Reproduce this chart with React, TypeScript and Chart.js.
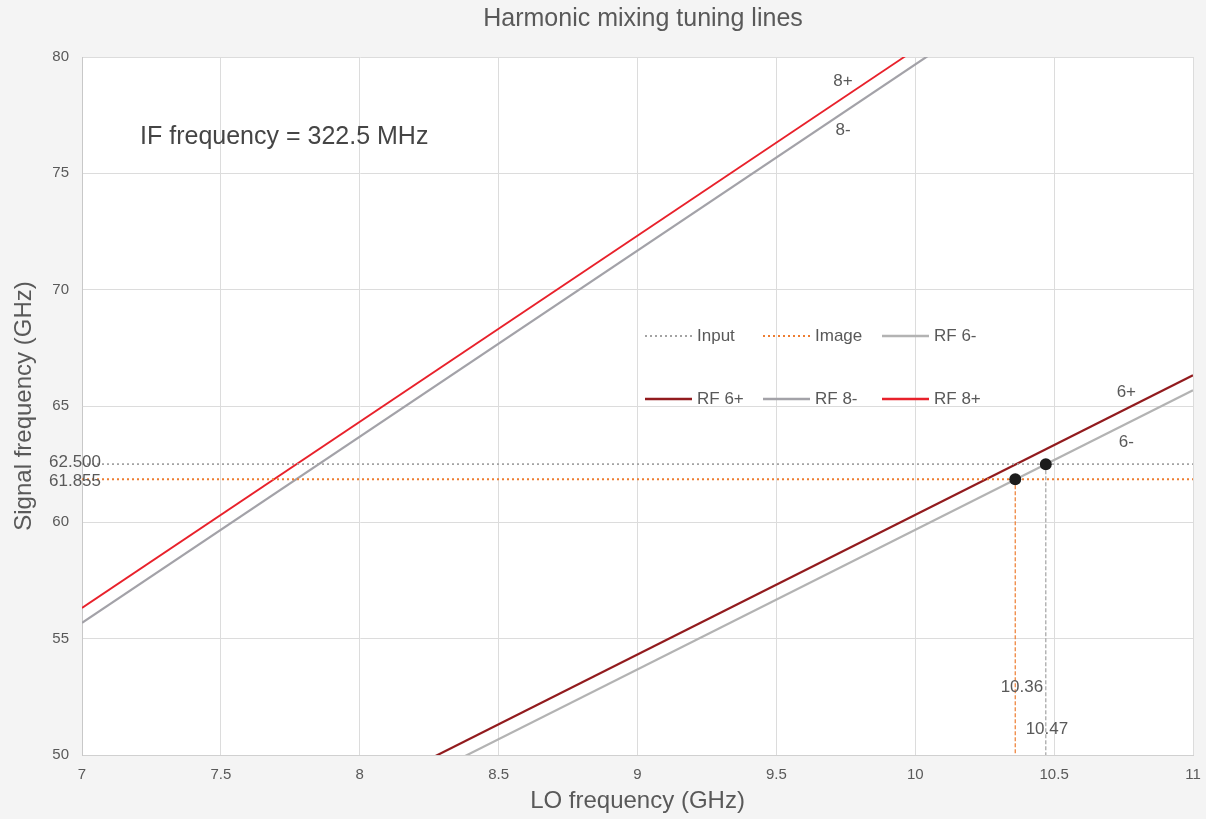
import React, { useEffect, useRef } from "react";
import { Chart, registerables } from "chart.js";
Chart.register(...registerables);

const TITLE = "Harmonic mixing tuning lines";
const X_TITLE = "LO frequency (GHz)";
const Y_TITLE = "Signal frequency (GHz)";
const IF_NOTE = "IF frequency = 322.5 MHz";

const X_MIN = 7;
const X_MAX = 11;
const Y_MIN = 50;
const Y_MAX = 80;

const LO_ENDS = [7, 11];
const RF6_MINUS = [41.68, 65.68];
const RF6_PLUS = [42.32, 66.32];
const RF8_MINUS = [55.68, 87.68];
const RF8_PLUS = [56.32, 88.32];

const INPUT_FREQ = 62.5;
const IMAGE_FREQ = 61.855;
const INPUT_LO = 10.47;
const IMAGE_LO = 10.36;

const LINE_LABELS = [
  { text: "8+", x: 9.74, y: 78.97 },
  { text: "8-", x: 9.74, y: 76.86 },
  { text: "6+", x: 10.76, y: 65.6 },
  { text: "6-", x: 10.76, y: 63.45 },
  { text: "10.36", x: 10.384, y: 52.92 },
  { text: "10.47", x: 10.474, y: 51.12 },
];

const C_GRAY_DOT = "#a3a3a3";
const C_ORANGE = "#ee7d31";
const C_RF6M = "#b3b3b3";
const C_RF6P = "#921b1e";
const C_RF8M = "#a3a2a8";
const C_RF8P = "#e8212b";
const TEXT = "#595959";
const FONT = "'Liberation Sans', Arial, sans-serif";

const LEGEND = [
  { label: "Input", color: C_GRAY_DOT, dash: [2, 3], width: 2 },
  { label: "Image", color: C_ORANGE, dash: [2, 3], width: 2 },
  { label: "RF 6-", color: C_RF6M, dash: [], width: 2.5 },
  { label: "RF 6+", color: C_RF6P, dash: [], width: 2.5 },
  { label: "RF 8-", color: C_RF8M, dash: [], width: 2.5 },
  { label: "RF 8+", color: C_RF8P, dash: [], width: 2.5 },
];

function pts(xs: number[], ys: number[]) {
  return xs.map((x, i) => ({ x, y: ys[i] }));
}

const bgPlugin = {
  id: "bgPlugin",
  beforeDraw(chart: any) {
    const { ctx, chartArea } = chart;
    ctx.save();
    ctx.fillStyle = "#f4f4f4";
    ctx.fillRect(0, 0, chart.width, chart.height);
    ctx.fillStyle = "#ffffff";
    ctx.fillRect(chartArea.left, chartArea.top, chartArea.right - chartArea.left, chartArea.bottom - chartArea.top);
    ctx.restore();
  },
};

const textPlugin = {
  id: "textPlugin",
  afterDraw(chart: any) {
    const { ctx, chartArea, scales } = chart;
    const xs = scales.x;
    const ys = scales.y;
    ctx.save();
    ctx.fillStyle = TEXT;
    ctx.font = `25px ${FONT}`;
    ctx.textAlign = "center";
    ctx.textBaseline = "middle";
    ctx.fillText(TITLE, 643, 19);

    ctx.fillStyle = "#454545";
    ctx.font = `25px ${FONT}`;
    ctx.textAlign = "left";
    ctx.fillText(IF_NOTE, xs.getPixelForValue(7.209), ys.getPixelForValue(76.56));

    ctx.fillStyle = TEXT;
    ctx.font = `17px ${FONT}`;
    ctx.textAlign = "center";
    LINE_LABELS.forEach((l) => {
      ctx.fillText(l.text, xs.getPixelForValue(l.x), ys.getPixelForValue(l.y));
    });

    ctx.font = `17px ${FONT}`;
    ctx.textAlign = "right";
    ctx.fillText(INPUT_FREQ.toFixed(3), chartArea.left + 19, ys.getPixelForValue(INPUT_FREQ) - 2);
    ctx.fillText(IMAGE_FREQ.toFixed(3), chartArea.left + 19, ys.getPixelForValue(IMAGE_FREQ) + 2);

    const colX = [645, 763, 882];
    const rowY = [336, 399];
    ctx.font = `17px ${FONT}`;
    ctx.textAlign = "left";
    LEGEND.forEach((item, i) => {
      const cx = colX[i % 3];
      const cy = rowY[Math.floor(i / 3)];
      ctx.beginPath();
      ctx.setLineDash(item.dash);
      ctx.strokeStyle = item.color;
      ctx.lineWidth = item.width;
      ctx.moveTo(cx, cy);
      ctx.lineTo(cx + 47, cy);
      ctx.stroke();
      ctx.setLineDash([]);
      ctx.fillStyle = TEXT;
      ctx.fillText(item.label, cx + 52, cy);
    });
    ctx.restore();
  },
};

export default function App() {
  const ref = useRef<HTMLCanvasElement | null>(null);
  useEffect(() => {
    document.body.style.margin = "0";
    if (!ref.current) return;
    const chart = new Chart(ref.current, {
      type: "line",
      data: {
        datasets: [
          {
            label: "Input",
            data: pts(LO_ENDS, [INPUT_FREQ, INPUT_FREQ]),
            borderColor: C_GRAY_DOT,
            borderWidth: 1.8,
            borderDash: [2, 3],
            pointRadius: 0,
          },
          {
            label: "Image",
            data: pts(LO_ENDS, [IMAGE_FREQ, IMAGE_FREQ]),
            borderColor: C_ORANGE,
            borderWidth: 2,
            borderDash: [2, 3],
            pointRadius: 0,
          },
          {
            label: "Input LO",
            data: pts([INPUT_LO, INPUT_LO], [INPUT_FREQ, Y_MIN]),
            borderColor: C_GRAY_DOT,
            borderWidth: 1.2,
            borderDash: [4, 2],
            pointRadius: 0,
          },
          {
            label: "Image LO",
            data: pts([IMAGE_LO, IMAGE_LO], [IMAGE_FREQ, Y_MIN]),
            borderColor: C_ORANGE,
            borderWidth: 1.2,
            borderDash: [4, 2],
            pointRadius: 0,
          },
          {
            label: "RF 6-",
            data: pts(LO_ENDS, RF6_MINUS),
            borderColor: C_RF6M,
            borderWidth: 2.2,
            pointRadius: 0,
          },
          {
            label: "RF 6+",
            data: pts(LO_ENDS, RF6_PLUS),
            borderColor: C_RF6P,
            borderWidth: 2.2,
            pointRadius: 0,
          },
          {
            label: "RF 8-",
            data: pts(LO_ENDS, RF8_MINUS),
            borderColor: C_RF8M,
            borderWidth: 2.2,
            pointRadius: 0,
          },
          {
            label: "RF 8+",
            data: pts(LO_ENDS, RF8_PLUS),
            borderColor: C_RF8P,
            borderWidth: 1.8,
            pointRadius: 0,
          },
          {
            type: "scatter",
            label: "Points",
            order: -1,
            data: pts([IMAGE_LO, INPUT_LO], [IMAGE_FREQ, INPUT_FREQ]),
            showLine: false,
            pointRadius: 6,
            pointBorderWidth: 0,
            pointBackgroundColor: "#1c1c1c",
            pointBorderColor: "#1c1c1c",
            backgroundColor: "#1c1c1c",
          },
        ],
      },
      options: {
        animation: false,
        responsive: false,
        maintainAspectRatio: false,
        layout: { padding: { top: 57, right: 13, left: 0, bottom: 0 } },
        plugins: {
          legend: { display: false },
          title: { display: false },
          tooltip: { enabled: false },
        },
        scales: {
          x: {
            type: "linear",
            min: X_MIN,
            max: X_MAX,
            afterFit: (s: any) => {
              s.height = 64;
              s.paddingRight = 0;
              s.paddingLeft = 0;
            },
            ticks: {
              stepSize: 0.5,
              padding: 11,
              color: TEXT,
              font: { family: FONT, size: 15 },
              maxRotation: 0,
              callback: (v: any) => String(Math.round(Number(v) * 10) / 10),
            },
            grid: { color: "#dcdcdc", drawTicks: false, lineWidth: 1 },
            border: { color: "#d0d0d0" },
            title: {
              display: true,
              text: X_TITLE,
              color: TEXT,
              font: { family: FONT, size: 24 },
              padding: { top: 0, bottom: 3 },
            },
          },
          y: {
            type: "linear",
            min: Y_MIN,
            max: Y_MAX,
            afterFit: (s: any) => {
              s.width = 82;
              s.paddingTop = 0;
              s.paddingBottom = 0;
            },
            ticks: {
              stepSize: 5,
              padding: 13,
              color: TEXT,
              font: { family: FONT, size: 15 },
            },
            grid: { color: "#dcdcdc", drawTicks: false, lineWidth: 1 },
            border: { color: "#c8c8c8" },
            title: {
              display: true,
              text: Y_TITLE,
              color: TEXT,
              font: { family: FONT, size: 24 },
              padding: { top: 10, bottom: 0 },
            },
          },
        },
      },
      plugins: [bgPlugin, textPlugin],
    } as any);
    return () => chart.destroy();
  }, []);
  return (
    <div style={{ position: "absolute", left: 0, top: 0, width: 1206, height: 819, background: "#f4f4f4" }}>
      <canvas ref={ref} width={1206} height={819} style={{ display: "block" }} />
    </div>
  );
}
